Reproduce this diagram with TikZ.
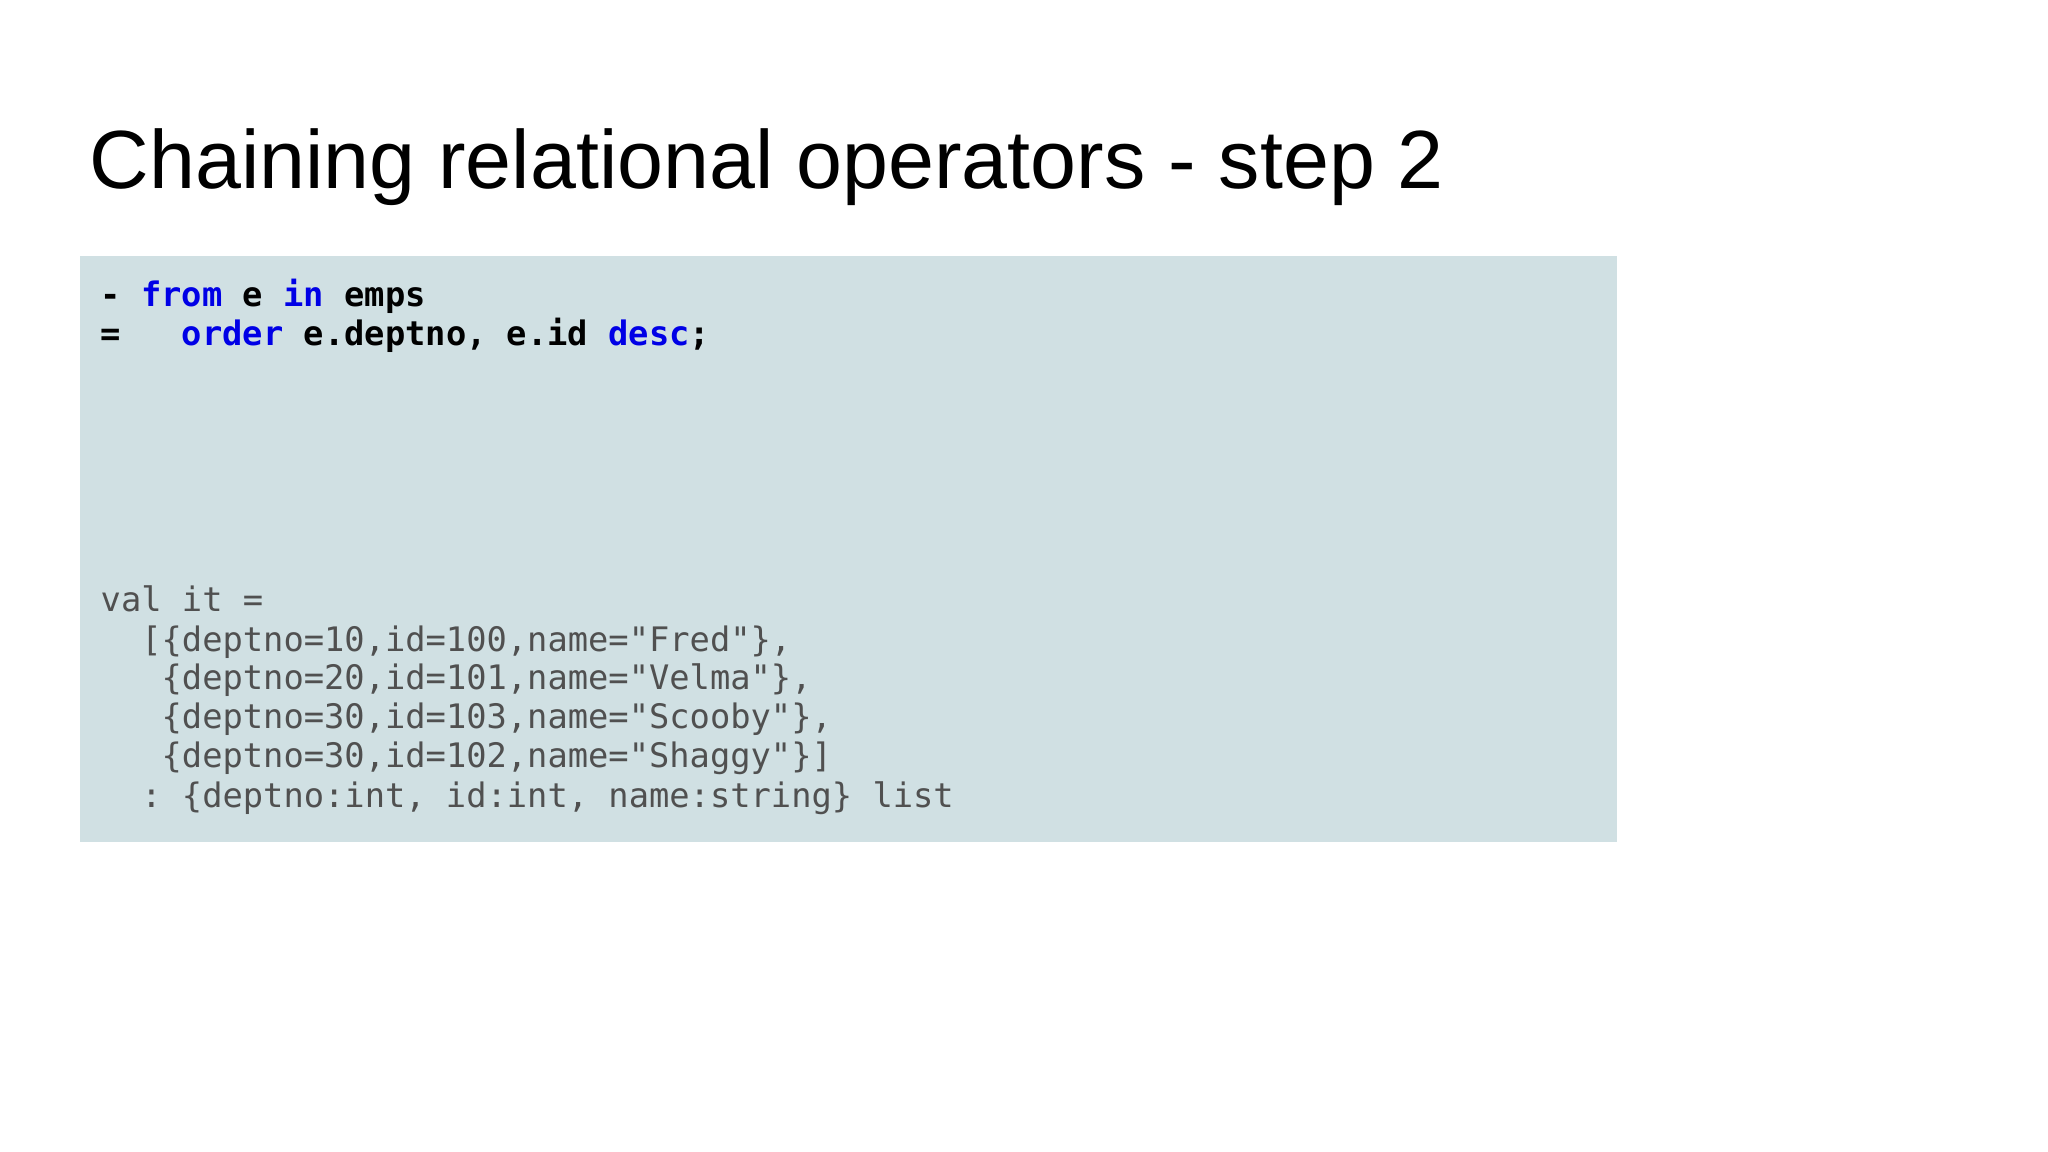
\documentclass[tikz,border=0pt]{standalone}
\usepackage{fontspec}
\setmainfont{Liberation Sans}
\setmonofont{DejaVu Sans Mono}
\definecolor{boxbg}{HTML}{D0E0E3}
\definecolor{kw}{HTML}{0000E6}
\definecolor{outc}{HTML}{505050}
\newcommand{\kwd}[1]{\textcolor{kw}{#1}}
\tikzset{
  codeline/.style={anchor=base west,inner sep=0pt,font=\ttfamily\fontsize{9.6pt}{12pt}\selectfont},
  inline/.style={codeline,font=\ttfamily\bfseries\fontsize{9.6pt}{12pt}\selectfont,text=black},
  outline/.style={codeline,text=outc}
}
\begin{document}
\begin{tikzpicture}[x=1cm,y=-1cm]
\useasboundingbox[fill=white] (0,0) rectangle (20.48,11.52);
\node[anchor=base west,inner sep=0pt,font=\fontsize{23.5pt}{28pt}\selectfont] (title) at (0.89,1.89) {Chaining relational operators - step 2};
\fill[boxbg] (0.80,2.56) rectangle (16.17,8.42);
\node[inline] (l1) at (1.00,3.07) {-\ \kwd{from} e \kwd{in} emps};
\node[inline] (l2) at (1.00,3.46) {=\ \ \ \kwd{order} e.deptno, e.id \kwd{desc};};
\node[outline] (o1) at (1.00,6.12) {val it =};
\node[outline] (o2) at (1.00,6.51) {\ \ [\{deptno=10,id=100,name="Fred"\},};
\node[outline] (o3) at (1.00,6.90) {\ \ \ \{deptno=20,id=101,name="Velma"\},};
\node[outline] (o4) at (1.00,7.29) {\ \ \ \{deptno=30,id=103,name="Scooby"\},};
\node[outline] (o5) at (1.00,7.68) {\ \ \ \{deptno=30,id=102,name="Shaggy"\}]};
\node[outline] (o6) at (1.00,8.07) {\ \ : \{deptno:int, id:int, name:string\} list};
\end{tikzpicture}
\end{document}
